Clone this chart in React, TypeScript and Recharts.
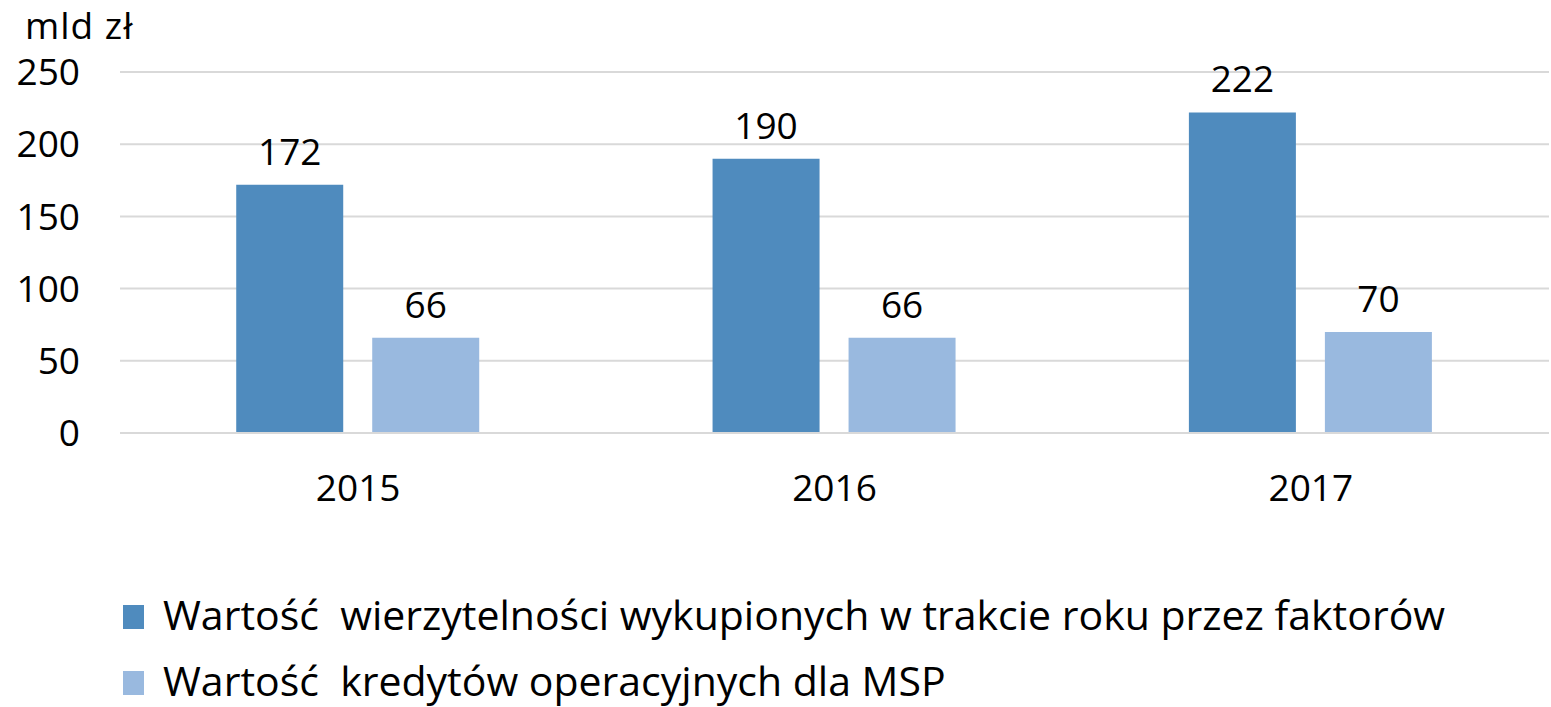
import { BarChart, Bar, XAxis, YAxis, CartesianGrid, LabelList } from "recharts";

const years = ["2015", "2016", "2017"];
const factoring = [172, 190, 222];
const mspLoans = [66, 66, 70];
const yTicks = [0, 50, 100, 150, 200, 250];

const seriesNames = [
  "Wartość  wierzytelności wykupionych w trakcie roku przez faktorów",
  "Wartość  kredytów operacyjnych dla MSP",
];
const colors = ["#4F8BBE", "#99B9DF"];

const data = years.map((year, i) => ({
  year,
  factoring: factoring[i],
  msp: mspLoans[i],
}));

const FONT = "'Open Sans', sans-serif";

function LegendBox() {
  return (
    <div style={{ fontFamily: FONT, fontSize: 41, color: "#000", lineHeight: "42px" }}>
      {seriesNames.map((name, i) => (
        <div
          key={name}
          style={{
            display: "flex",
            alignItems: "center",
            height: 42,
            marginBottom: i === 0 ? 24 : 0,
            whiteSpace: "pre",
          }}
        >
          <span
            style={{
              display: "inline-block",
              width: 21,
              height: 24,
              marginTop: 6,
              background: colors[i],
              marginRight: 19,
            }}
          />
          {name}
        </div>
      ))}
    </div>
  );
}

export default function App() {
  return (
    <div style={{ position: "relative", width: 1551, height: 707, background: "#fff", overflow: "hidden" }}>
      <style>{`body { margin: 0; }`}</style>
      <div
        style={{
          position: "absolute",
          left: 25,
          top: 5,
          fontFamily: FONT,
          fontSize: 37,
          lineHeight: "40px",
          letterSpacing: 1,
          color: "#000",
        }}
      >
        mld zł
      </div>
      <BarChart
        width={1551}
        height={707}
        data={data}
        margin={{ top: 72, right: 2, left: 0, bottom: 0 }}
        barCategoryGap="24.4%"
        barGap={29}
      >
        <CartesianGrid vertical={false} stroke="#D9D9D9" strokeWidth={2} />
        <XAxis
          dataKey="year"
          axisLine={{ stroke: "#D9D9D9", strokeWidth: 2 }}
          tickLine={false}
          tickSize={0}
          tickMargin={42}
          height={274}
          tick={{ fill: "#000", fontSize: 37, fontFamily: FONT }}
        />
        <YAxis
          domain={[0, 250]}
          ticks={yTicks}
          axisLine={false}
          tickLine={false}
          tickSize={0}
          tickMargin={40}
          width={120}
          tick={{ fill: "#000", fontSize: 37, fontFamily: FONT }}
        />
        <Bar dataKey="factoring" name={seriesNames[0]} fill={colors[0]} isAnimationActive={false}>
          <LabelList
            dataKey="factoring"
            position="top"
            offset={20}
            style={{ fill: "#000", fontSize: 37, fontFamily: FONT }}
          />
        </Bar>
        <Bar dataKey="msp" name={seriesNames[1]} fill={colors[1]} isAnimationActive={false}>
          <LabelList
            dataKey="msp"
            position="top"
            offset={20}
            style={{ fill: "#000", fontSize: 37, fontFamily: FONT }}
          />
        </Bar>
      </BarChart>
      <div style={{ position: "absolute", left: 123, top: 593 }}>
        <LegendBox />
      </div>
    </div>
  );
}
